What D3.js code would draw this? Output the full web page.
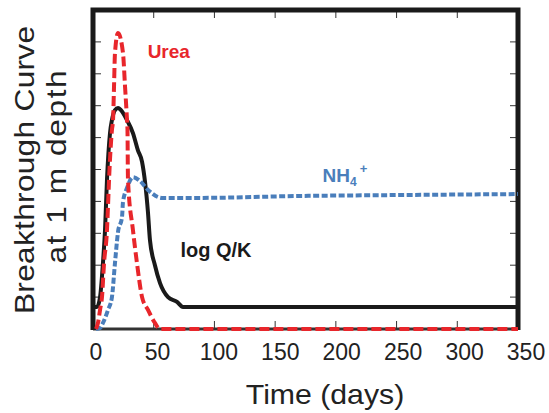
<!DOCTYPE html>
<html>
<head>
<meta charset="utf-8" />
<title></title>
<style>
html, body {
    padding: 0px;
    margin: 0px;
    background: #fff;
}
text {
    font-family: "Liberation Sans", Arial, sans-serif;
}
</style>
</head>
<body>
<div id="chart"></div>
<script src="https://d3js.org/d3.v7.min.js"></script>
<script>
// values: [day, relative value]
var ureaDays = [2.5, 4.1, 5.8, 7.4, 9.1, 11.5, 12.4, 13.2, 15.6, 16.5, 17.3, 18.1, 20.6, 24.7, 26.4, 28, 28.4, 28.8, 32.9, 36.2, 40.4, 45.3, 51, 55.2, 350];
var ureaVals = [0, 0.019, 0.06, 0.10, 0.207, 0.31, 0.39, 0.467, 0.624, 0.655, 0.759, 0.865, 0.928, 0.865, 0.759, 0.655, 0.624, 0.467, 0.31, 0.207, 0.10, 0.06, 0.019, 0, 0];

var logqkDays = [0, 3.3, 5.8, 8.2, 9.9, 11.5, 14, 15.6, 18.1, 20.6, 23, 28, 32.9, 37, 40.4, 45.3, 46.9, 51, 55.2, 61.8, 69.2, 74.1, 350];
var logqkVals = [0.069, 0.069, 0.10, 0.207, 0.31, 0.467, 0.614, 0.655, 0.686, 0.693, 0.686, 0.655, 0.614, 0.56, 0.524, 0.364, 0.279, 0.20, 0.144, 0.10, 0.085, 0.069, 0.069];

var nh4Days = [2.5, 5.8, 8.2, 12.4, 15.6, 18.1, 20.6, 23.9, 24.7, 28, 32.9, 38.7, 45.3, 56.8, 88, 170, 253, 350];
var nh4Vals = [0, 0.003, 0.019, 0.06, 0.10, 0.207, 0.304, 0.351, 0.398, 0.442, 0.476, 0.464, 0.436, 0.411, 0.411, 0.417, 0.42, 0.423];

var xTicks = [0, 50, 100, 150, 200, 250, 300, 350];
var yTicks = [0, 0.1, 0.2, 0.3, 0.4, 0.5, 0.6, 0.7, 0.8, 0.9, 1];

var width = 549, height = 413;
var plotL = 93, plotR = 518, plotT = 10, plotB = 329;

var svg = d3.select("#chart").append("svg")
    .attr("width", width)
    .attr("height", height);

var x = d3.scaleLinear().domain([0, 350]).range([plotL, plotR]);
var y = d3.scaleLinear().domain([0, 1]).range([plotB, plotT]);
// tick labels sit a little right of their ticks in the original
var xLab = d3.scaleLinear().domain([0, 350]).range([96, 526]);

function pts(days, vals) {
    return days.map(function(d, i) { return [d, vals[i]]; });
}

var line = d3.line()
    .x(function(d) { return x(d[0]); })
    .y(function(d) { return y(d[1]); })
    .curve(d3.curveMonotoneX);

// inner ticks
var tg = svg.append("g").attr("stroke", "#333").attr("stroke-width", 1);
xTicks.slice(1, -1).forEach(function(t) {
    tg.append("line").attr("x1", x(t)).attr("x2", x(t)).attr("y1", plotB).attr("y2", plotB - 8);
    tg.append("line").attr("x1", x(t)).attr("x2", x(t)).attr("y1", plotT).attr("y2", plotT + 8);
});
yTicks.slice(1, -1).forEach(function(t) {
    tg.append("line").attr("x1", plotL).attr("x2", plotL + 8).attr("y1", y(t)).attr("y2", y(t));
    tg.append("line").attr("x1", plotR).attr("x2", plotR - 8).attr("y1", y(t)).attr("y2", y(t));
});

// frame
svg.append("line").attr("x1", plotL).attr("x2", plotR).attr("y1", plotB).attr("y2", plotB)
    .attr("stroke", "#333").attr("stroke-width", 3);
svg.append("path")
    .attr("d", "M" + plotL + "," + (plotB + 1) + "V" + plotT + "H" + plotR + "V" + (plotB + 1))
    .attr("fill", "none").attr("stroke", "#1a1a1a").attr("stroke-width", 5);

// series
svg.append("path").datum(pts(logqkDays, logqkVals))
    .attr("d", line).attr("fill", "none")
    .attr("stroke", "#1a1a1a").attr("stroke-width", 4);

svg.append("path").datum(pts(nh4Days, nh4Vals))
    .attr("d", line).attr("fill", "none")
    .attr("stroke", "#4a7ebb").attr("stroke-width", 4)
    .attr("stroke-dasharray", "6,2.5");

svg.append("path").datum(pts(ureaDays, ureaVals))
    .attr("d", line).attr("fill", "none")
    .attr("stroke", "#e8262b").attr("stroke-width", 4)
    .attr("stroke-dasharray", "10,4");

// x tick labels
svg.append("g").selectAll("text").data(xTicks).enter().append("text")
    .attr("x", function(d) { return xLab(d); })
    .attr("y", 360)
    .attr("text-anchor", "middle")
    .attr("font-size", 23)
    .attr("fill", "#222")
    .text(function(d) { return d; });

// axis titles (the original is slightly stretched along the text)
svg.append("text")
    .attr("transform", "translate(325,404) scale(1.08,1)")
    .attr("text-anchor", "middle")
    .attr("font-size", 28)
    .attr("fill", "#222")
    .text("Time (days)");

svg.append("text")
    .attr("transform", "translate(34,170) rotate(-90) scale(1.13,1)")
    .attr("text-anchor", "middle")
    .attr("font-size", 28)
    .attr("textLength", 255)
    .attr("lengthAdjust", "spacing")
    .attr("fill", "#222")
    .text("Breakthrough Curve");

svg.append("text")
    .attr("transform", "translate(66,167) rotate(-90) scale(1.13,1)")
    .attr("text-anchor", "middle")
    .attr("font-size", 28)
    .attr("textLength", 171)
    .attr("lengthAdjust", "spacing")
    .attr("fill", "#222")
    .text("at 1 m depth");

// series labels
svg.append("text")
    .attr("x", x(45)).attr("y", y(0.85))
    .attr("font-size", 19).attr("font-weight", "bold")
    .attr("fill", "#e8262b")
    .text("Urea");

var nh = svg.append("text")
    .attr("x", x(189)).attr("y", y(0.46))
    .attr("font-size", 19).attr("font-weight", "bold")
    .attr("fill", "#4a7ebb");
nh.append("tspan").text("NH");
nh.append("tspan").attr("font-size", 12).attr("dy", 4).text("4");
nh.append("tspan").attr("font-size", 13).attr("dx", 3).attr("dy", -13).text("+");

svg.append("text")
    .attr("x", x(72)).attr("y", y(0.225))
    .attr("font-size", 20).attr("font-weight", "bold")
    .attr("fill", "#1a1a1a")
    .text("log Q/K");
</script>
</body>
</html>
